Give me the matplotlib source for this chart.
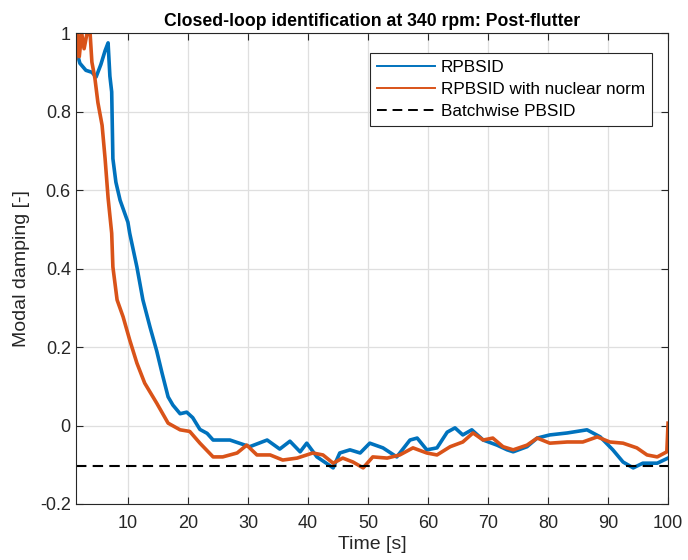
import numpy as np
import matplotlib
matplotlib.use("Agg")
import matplotlib.pyplot as plt
from matplotlib.ticker import FuncFormatter

# ── data ──────────────────────────────────────────────────────────────────────
t_rpbsid = [1.3, 2.0, 3.0, 4.0, 4.7, 5.5, 6.2, 6.7, 7.0, 7.3, 7.4, 7.5, 8.0, 8.7,
            10.0, 10.3, 11.5, 12.5, 13.7, 14.8, 15.7, 16.7, 17.5, 18.7, 19.8, 20.8,
            22.0, 23.2, 24.2, 27.0, 30.3, 33.2, 35.3, 37.0, 38.7, 39.8, 41.5, 44.2,
            45.3, 47.0, 48.7, 50.3, 52.5, 54.8, 57.0, 58.2, 59.8, 61.5, 63.2, 64.5,
            65.8, 67.3, 69.2, 71.5, 73.2, 74.2, 76.5, 78.2, 80.3, 83.2, 86.5, 88.7,
            90.8, 92.5, 94.2, 95.8, 98.2, 100.0]
d_rpbsid = [0.962, 0.923, 0.905, 0.90, 0.888, 0.92, 0.955, 0.975, 0.89, 0.85, 0.765,
            0.68, 0.62, 0.574, 0.518, 0.49, 0.404, 0.32, 0.25, 0.19, 0.133, 0.073,
            0.052, 0.03, 0.034, 0.02, -0.01, -0.02, -0.037, -0.037, -0.054, -0.037,
            -0.06, -0.04, -0.067, -0.045, -0.08, -0.108, -0.07, -0.062, -0.07, -0.045,
            -0.057, -0.08, -0.037, -0.032, -0.062, -0.057, -0.017, -0.006, -0.024,
            -0.011, -0.037, -0.05, -0.062, -0.067, -0.054, -0.032, -0.024, -0.019,
            -0.011, -0.029, -0.062, -0.093, -0.108, -0.096, -0.096, -0.083]

t_nuclear = [1.3, 1.6, 1.9, 2.3, 2.7, 3.2, 3.7, 4.0, 4.5, 5.0, 5.7, 6.2, 6.7, 7.3,
             7.5, 8.2, 9.2, 10.3, 11.5, 12.8, 14.8, 16.7, 18.7, 20.3, 22.0, 24.2,
             25.8, 28.2, 29.8, 31.5, 33.7, 35.8, 38.2, 40.8, 42.5, 44.2, 45.8, 47.5,
             49.2, 50.8, 53.2, 55.3, 57.5, 59.8, 61.5, 63.7, 65.8, 67.5, 69.2, 70.8,
             72.5, 74.2, 76.5, 78.2, 80.3, 83.2, 85.8, 88.2, 90.3, 92.5, 94.8, 96.5,
             98.2, 99.8, 100.0]
d_nuclear = [0.936, 1.0, 0.94, 1.0, 0.96, 1.0, 1.0, 0.926, 0.885, 0.823, 0.765, 0.68,
             0.58, 0.49, 0.404, 0.32, 0.277, 0.218, 0.159, 0.108, 0.057, 0.006, -0.011,
             -0.015, -0.045, -0.08, -0.08, -0.07, -0.05, -0.075, -0.075, -0.088, -0.083,
             -0.07, -0.075, -0.096, -0.083, -0.093, -0.108, -0.08, -0.083, -0.075,
             -0.057, -0.07, -0.075, -0.054, -0.042, -0.019, -0.037, -0.032, -0.054,
             -0.062, -0.05, -0.032, -0.045, -0.042, -0.042, -0.029, -0.042, -0.045,
             -0.057, -0.075, -0.08, -0.067, 0.006]

batch_damping = -0.102

x_ticks = [10, 20, 30, 40, 50, 60, 70, 80, 90, 100]
y_ticks = [-0.2, 0, 0.2, 0.4, 0.6, 0.8, 1.0]

# ── style ─────────────────────────────────────────────────────────────────────
plt.rcParams["font.family"] = ["Liberation Sans", "DejaVu Sans"]
BLUE = "#0072BD"
ORANGE = "#D95319"
AX_COL = "#262626"

fig = plt.figure(figsize=(6.88, 5.6), dpi=100)
ax = fig.add_axes([0.110, 0.100, 0.861, 0.841])

ax.plot(t_rpbsid, d_rpbsid, color=BLUE, linewidth=2.6, label="RPBSID")
ax.plot(t_nuclear, d_nuclear, color=ORANGE, linewidth=2.6,
        label="RPBSID with nuclear norm")
ax.axhline(batch_damping, color="black", linestyle=(0, (5, 3)), linewidth=1.5,
           label="Batchwise PBSID")

ax.set_xlim(1.3, 100)
ax.set_ylim(-0.2, 1.0)
ax.set_xticks(x_ticks)
ax.set_yticks(y_ticks)
ax.yaxis.set_major_formatter(FuncFormatter(lambda v, p: f"{v:g}"))

ax.grid(True, color="#dfdfdf", linewidth=0.9)
ax.set_axisbelow(True)
ax.tick_params(direction="in", top=True, right=True, labelsize=13,
               colors=AX_COL, length=5, width=0.8)
ax.tick_params(axis="x", pad=8)
for s in ax.spines.values():
    s.set_color(AX_COL)
    s.set_linewidth(0.8)

ax.set_xlabel("Time [s]", fontsize=14, color=AX_COL, labelpad=3)
ax.set_ylabel("Modal damping [-]", fontsize=14, color=AX_COL, labelpad=7)
ax.set_title("Closed-loop identification at 340 rpm: Post-flutter",
             fontsize=12.7, fontweight="bold", pad=5)

leg = ax.legend(loc="upper right", bbox_to_anchor=(0.973, 0.9575), fontsize=12.3,
                frameon=True, fancybox=False, borderpad=0.42, labelspacing=0.4,
                handlelength=3.4, handletextpad=0.35, borderaxespad=0)
leg.get_frame().set_edgecolor(AX_COL)
leg.get_frame().set_linewidth(0.8)
leg.get_frame().set_alpha(1)
for h in leg.get_lines():
    h.set_linewidth(1.4)

fig.savefig("out.png", dpi=100)
